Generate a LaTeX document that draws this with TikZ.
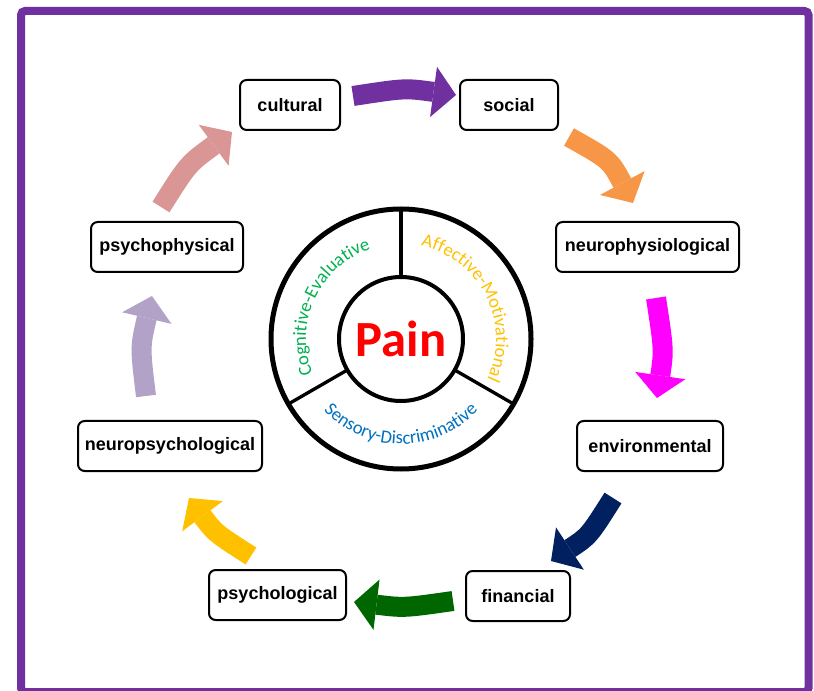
\documentclass[tikz,border=0pt]{standalone}
\usepackage{fontspec}
\setmainfont{Liberation Sans}
\newfontfamily\carl{Carlito}
\usetikzlibrary{arrows.meta,decorations.text}
\definecolor{framepurple}{HTML}{7030A0}
\definecolor{apurple}{HTML}{7030A0}
\definecolor{aorange}{HTML}{F79646}
\definecolor{amagenta}{HTML}{FF00FF}
\definecolor{anavy}{HTML}{002060}
\definecolor{agreen}{HTML}{006600}
\definecolor{ayellow}{HTML}{FFC000}
\definecolor{alavender}{HTML}{B3A2C7}
\definecolor{apink}{HTML}{D99694}
\definecolor{tgreen}{HTML}{00B050}
\definecolor{tgold}{HTML}{FFC000}
\definecolor{tblue}{HTML}{0070C0}
\begin{document}
\begin{tikzpicture}[x=0.75pt,y=-0.75pt,
  box/.style={draw, line width=1.5pt, rounded corners=5pt, minimum height=37.5pt,
    inner sep=0pt, font=\bfseries\fontsize{13.5}{16}\selectfont},
  bigarrow/.style={line width=15pt, -{Triangle[length=17pt,width=38pt,line width=0pt]}},
  arctext/.style={decorate, decoration={text along path, text align=center,
    text={|\carl\fontsize{14}{16}\selectfont|#1}}},
  ring/.style={draw, line width=3.75pt},
  divider/.style={draw, line width=2.5pt}
]
\useasboundingbox (0,0) rectangle (814,691);
\draw[line width=6pt, framepurple, rounded corners=3pt] (21,11) rectangle (808.5,692);

% boxes
\node[box, minimum width=75pt]     (cultural) at (290,105) {cultural};
\node[box, minimum width=73.5pt]   (social)   at (509,105) {social};
\node[box, minimum width=137.25pt] (neurophys) at (647.5,247) {neurophysiological};
\node[box, minimum width=109.5pt]  (environ)  at (650,446) {environmental};
\node[box, minimum width=78pt]     (financial) at (518,596) {financial};
\node[box, minimum width=102.75pt] (psychol)  at (277.5,595) {psychological};
\node[box, minimum width=138pt]    (neuropsy) at (170,446) {neuropsychological};
\node[box, minimum width=114pt]    (psychoph) at (167,247) {psychophysical};

% arrow coordinates
\coordinate (a1s) at (353,96);  \coordinate (a1c) at (405,88);  \coordinate (a1e) at (456,95);
\coordinate (a2s) at (569,137); \coordinate (a2c) at (610,160); \coordinate (a2e) at (633,203);
\coordinate (a3s) at (656,298); \coordinate (a3c) at (664,350); \coordinate (a3e) at (657,398);
\coordinate (a4s) at (613,498); \coordinate (a4c) at (589,536); \coordinate (a4e) at (551,561);
\coordinate (a5s) at (453,601); \coordinate (a5c) at (404,608); \coordinate (a5e) at (354,602);
\coordinate (a6s) at (251,556); \coordinate (a6c) at (215,533); \coordinate (a6e) at (189,498);
\coordinate (a7s) at (146,396); \coordinate (a7c) at (140,347); \coordinate (a7e) at (152,296);
\coordinate (a8s) at (161,207); \coordinate (a8c) at (188,164); \coordinate (a8e) at (232,132);

\draw[bigarrow, apurple]   (a1s) .. controls (a1c) .. (a1e);
\draw[bigarrow, aorange]   (a2s) .. controls (a2c) .. (a2e);
\draw[bigarrow, amagenta]  (a3s) .. controls (a3c) .. (a3e);
\draw[bigarrow, anavy]     (a4s) .. controls (a4c) .. (a4e);
\draw[bigarrow, agreen]    (a5s) .. controls (a5c) .. (a5e);
\draw[bigarrow, ayellow]   (a6s) .. controls (a6c) .. (a6e);
\draw[bigarrow, alavender] (a7s) .. controls (a7c) .. (a7e);
\draw[bigarrow, apink]     (a8s) .. controls (a8c) .. (a8e);

% central wheel
\coordinate (c) at (401,339);
\draw[ring] (c) circle[radius=130];
\draw[line width=3pt] (c) circle[radius=62];
\draw[divider] (c) ++(-90:62) -- ++(-90:68);
\draw[divider] (c) ++(-210:62) -- ++(-210:68);
\draw[divider] (c) ++(-330:62) -- ++(-330:68);
\node[text=red, font=\carl\bfseries\fontsize{38}{42}\selectfont] (pain) at (c) {Pain};

\path (c) ++(-200:95) coordinate (cogs);
\path (c) ++(-80:95) coordinate (affs);
\path (c) ++(-215:105) coordinate (sens);
\path[arctext={Cognitive-Evaluative}, decoration={text color=tgreen}]
  (cogs) arc[start angle=-200, end angle=-110, radius=95];
\path[arctext={Affective-Motivational}, decoration={text color=tgold}]
  (affs) arc[start angle=-80, end angle=27, radius=95];
\path[arctext={Sensory-Discriminative}, decoration={text color=tblue}]
  (sens) arc[start angle=-215, end angle=-325, radius=105];
\end{tikzpicture}
\end{document}
